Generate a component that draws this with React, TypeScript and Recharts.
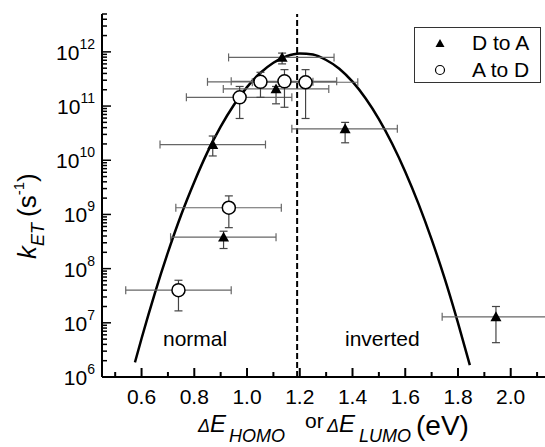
import React from 'react';
import {
  ComposedChart,
  XAxis,
  YAxis,
  Line,
  Scatter,
  ErrorBar,
  ReferenceLine,
  Legend,
} from 'recharts';

const FONT = '"Liberation Sans", Arial, Helvetica, sans-serif';

// Marcus fit: driving force (eV) vs log10 of the rate
const curveX = [
  0.575, 0.6, 0.65, 0.7, 0.75, 0.8, 0.85, 0.9, 0.95, 1.0, 1.05, 1.1, 1.15, 1.2,
  1.25, 1.3, 1.35, 1.4, 1.45, 1.5, 1.55, 1.6, 1.65, 1.7, 1.75, 1.8, 1.845,
];
const curveLogK = [
  6.27, 6.71, 7.54, 8.3, 8.99, 9.6, 10.15, 10.62, 11.02, 11.35, 11.61, 11.8,
  11.92, 11.97, 11.95, 11.85, 11.69, 11.45, 11.14, 10.76, 10.31, 9.79, 9.2,
  8.54, 7.81, 7.0, 6.22,
];

// D to A (filled triangles)
const dtoaX = [0.87, 0.911, 1.11, 1.133, 1.372, 1.944];
const dtoaK = [1.95e10, 3.8e8, 2.07e11, 7.9e11, 3.8e10, 1.29e7];
const dtoaXLow = [0.67, 0.71, 0.91, 0.93, 1.17, 1.74];
const dtoaXHigh = [1.07, 1.11, 1.31, 1.33, 1.57, 2.14];
const dtoaKLow = [1.2e10, 2.35e8, 1.1e11, 6.0e11, 2.1e10, 4.3e6];
const dtoaKHigh = [2.8e10, 4.9e8, 2.3e11, 9.5e11, 5.0e10, 2.0e7];

// A to D (open circles)
const atodX = [0.74, 0.931, 0.972, 1.051, 1.142, 1.222];
const atodK = [4.0e7, 1.33e9, 1.45e11, 2.8e11, 2.86e11, 2.75e11];
const atodXLow = [0.54, 0.73, 0.77, 0.85, 0.94, 1.02];
const atodXHigh = [0.94, 1.13, 1.17, 1.25, 1.34, 1.42];
const atodKLow = [1.66e7, 5.7e8, 5.9e10, 1.45e11, 9.5e10, 5.9e10];
const atodKHigh = [6.1e7, 2.2e9, 2.3e11, 4.2e11, 4.7e11, 4.7e11];

// axis ticks
const majorXTicks = [0.6, 0.8, 1.0, 1.2, 1.4, 1.6, 1.8, 2.0];
const minorXTicks = [0.5, 0.7, 0.9, 1.1, 1.3, 1.5, 1.7, 1.9, 2.1];
const decades = [6, 7, 8, 9, 10, 11, 12];
const mantissas = [1, 2, 3, 4, 5, 6, 7, 8, 9];
const Y_MAX = 5e12;

const TRI_HALF = 5.5;
const CIRCLE_R = 6.5;

const xTicks = [...majorXTicks, ...minorXTicks].sort((a, b) => a - b);
const yTicks = decades
  .flatMap((d) => mantissas.map((m) => m * Math.pow(10, d)))
  .filter((v) => v <= Y_MAX);

const curveData = curveX.map((x, i) => ({ x, k: Math.pow(10, curveLogK[i]) }));

const buildPoints = (
  xs: number[],
  ks: number[],
  xl: number[],
  xh: number[],
  kl: number[],
  kh: number[]
) =>
  xs.map((x, i) => ({
    x,
    k: ks[i],
    ex: [x - xl[i], xh[i] - x],
    ey: [ks[i] - kl[i], kh[i] - ks[i]],
  }));

const dtoaData = buildPoints(dtoaX, dtoaK, dtoaXLow, dtoaXHigh, dtoaKLow, dtoaKHigh);
const atodData = buildPoints(atodX, atodK, atodXLow, atodXHigh, atodKLow, atodKHigh);

const isMajorX = (v: number) => majorXTicks.some((t) => Math.abs(t - v) < 1e-6);
const decadeOf = (v: number) => {
  const e = Math.round(Math.log10(v));
  return Math.abs(v - Math.pow(10, e)) / v < 1e-9 ? e : null;
};

function BottomTick({ x, y, payload }: any) {
  const major = isMajorX(payload.value);
  return (
    <g>
      <line x1={x} x2={x} y1={y} y2={y - (major ? 9 : 5)} stroke="#000" strokeWidth={2} />
      {major && (
        <text x={x} y={y + 27} textAnchor="middle" fontSize={21} fontFamily={FONT} fill="#000">
          {payload.value.toFixed(1)}
        </text>
      )}
    </g>
  );
}

function TopTick({ x, y, payload }: any) {
  const major = isMajorX(payload.value);
  return <line x1={x} x2={x} y1={y} y2={y + (major ? 9 : 5)} stroke="#000" strokeWidth={2} />;
}

function LeftTick({ x, y, payload }: any) {
  const e = decadeOf(payload.value);
  return (
    <g>
      <line x1={x} x2={x + (e !== null ? 9 : 5)} y1={y} y2={y} stroke="#000" strokeWidth={1.5} />
      {e !== null && (
        <text x={x - 7} y={y + 8} textAnchor="end" fontFamily={FONT} fill="#000">
          <tspan fontSize={21}>10</tspan>
          <tspan fontSize={14} dy={-11}>
            {e}
          </tspan>
        </text>
      )}
    </g>
  );
}

function RightTick({ x, y, payload }: any) {
  const e = decadeOf(payload.value);
  return <line x1={x} x2={x - (e !== null ? 9 : 5)} y1={y} y2={y} stroke="#000" strokeWidth={1.5} />;
}

// recharts hands the symbol area in as `size`, so the marker keeps its own dimensions
function Triangle({ cx, cy }: any) {
  if (cx == null || cy == null) return null;
  const h = TRI_HALF;
  return (
    <polygon
      points={`${cx},${cy - h} ${cx - h},${cy + h * 0.8} ${cx + h},${cy + h * 0.8}`}
      fill="#000"
    />
  );
}

function OpenCircle({ cx, cy }: any) {
  if (cx == null || cy == null) return null;
  return <circle cx={cx} cy={cy} r={CIRCLE_R} fill="#fff" stroke="#000" strokeWidth={1.5} />;
}

const legendItems = [
  { name: 'D to A', kind: 'tri' },
  { name: 'A to D', kind: 'circ' },
];

function LegendBox() {
  return (
    <div
      style={{
        width: 127,
        height: 56,
        border: '1.5px solid #333',
        background: '#fff',
        fontFamily: FONT,
        fontSize: 21,
        boxSizing: 'border-box',
        paddingTop: 1,
      }}
    >
      {legendItems.map((it) => (
        <div key={it.name} style={{ display: 'flex', alignItems: 'center', height: 27 }}>
          <svg width={57} height={27}>
            {it.kind === 'tri' ? (
              <polygon points="25,10 20.5,18 29.5,18" fill="#000" />
            ) : (
              <circle cx={25} cy={14} r={4.5} fill="#fff" stroke="#000" strokeWidth={1.2} />
            )}
          </svg>
          <span style={{ lineHeight: '27px' }}>{it.name}</span>
        </div>
      ))}
    </div>
  );
}

export default function App() {
  return (
    <div style={{ position: 'absolute', left: 0, top: 0, width: 545, height: 447, background: '#fff' }}>
      <ComposedChart width={545} height={447} margin={{ top: 14, right: 0, bottom: 0, left: 0 }}>
        <XAxis
          xAxisId="b"
          dataKey="x"
          type="number"
          domain={[0.45, 2.13]}
          allowDataOverflow
          ticks={xTicks}
          interval={0}
          height={70}
          tickSize={0}
          tickMargin={0}
          tick={BottomTick}
          axisLine={{ stroke: '#000', strokeWidth: 2 }}
        />
        <XAxis
          xAxisId="t"
          orientation="top"
          dataKey="x"
          type="number"
          domain={[0.45, 2.13]}
          allowDataOverflow
          ticks={xTicks}
          interval={0}
          height={0}
          tickSize={0}
          tickMargin={0}
          tick={TopTick}
          axisLine={{ stroke: '#000', strokeWidth: 2 }}
        />
        <YAxis
          yAxisId="l"
          dataKey="k"
          type="number"
          scale="log"
          domain={[1e6, Y_MAX]}
          allowDataOverflow
          ticks={yTicks}
          interval={0}
          width={102}
          tickSize={0}
          tickMargin={0}
          tick={LeftTick}
          axisLine={{ stroke: '#000', strokeWidth: 2 }}
        />
        <YAxis
          yAxisId="r"
          orientation="right"
          dataKey="k"
          type="number"
          scale="log"
          domain={[1e6, Y_MAX]}
          allowDataOverflow
          ticks={yTicks}
          interval={0}
          width={0}
          tickSize={0}
          tickMargin={0}
          tick={RightTick}
          axisLine={{ stroke: '#000', strokeWidth: 2 }}
        />
        <ReferenceLine
          xAxisId="b"
          yAxisId="l"
          x={1.19}
          stroke="#000"
          strokeWidth={2}
          strokeDasharray="6 3"
        />
        <Line
          xAxisId="b"
          yAxisId="l"
          data={curveData}
          dataKey="k"
          type="monotone"
          stroke="#000"
          strokeWidth={2.5}
          dot={false}
          activeDot={false}
          isAnimationActive={false}
          legendType="none"
        />
        <Scatter
          xAxisId="b"
          yAxisId="l"
          name="D to A"
          data={dtoaData}
          dataKey="k"
          shape={<Triangle />}
          isAnimationActive={false}
        >
          <ErrorBar dataKey="ex" direction="x" width={4} stroke="#666" strokeWidth={1.2} isAnimationActive={false} />
          <ErrorBar dataKey="ey" direction="y" width={4} stroke="#444" strokeWidth={1.2} isAnimationActive={false} />
        </Scatter>
        <Scatter
          xAxisId="b"
          yAxisId="l"
          name="A to D"
          data={atodData}
          dataKey="k"
          shape={<OpenCircle />}
          isAnimationActive={false}
        >
          <ErrorBar dataKey="ex" direction="x" width={4} stroke="#666" strokeWidth={1.2} isAnimationActive={false} />
          <ErrorBar dataKey="ey" direction="y" width={4} stroke="#444" strokeWidth={1.2} isAnimationActive={false} />
        </Scatter>
        <Legend
          layout="vertical"
          align="center"
          verticalAlign="middle"
          content={() => <LegendBox />}
          wrapperStyle={{ position: 'absolute', left: 414, top: 27, width: 127, height: 56 }}
        />
      </ComposedChart>
      <svg
        width={545}
        height={447}
        style={{ position: 'absolute', left: 0, top: 0, pointerEvents: 'none' }}
        fontFamily={FONT}
      >
        <text x={163} y={346} fontSize={21} fill="#000">
          normal
        </text>
        <text x={345} y={346} fontSize={21} fill="#000">
          inverted
        </text>
        <text y={432} fill="#000">
          <tspan x={198} fontSize={18} fontStyle="italic">
            Δ
          </tspan>
          <tspan fontSize={24} fontStyle="italic">
            E
          </tspan>
          <tspan x={229} fontSize={18} fontStyle="italic" dy={10}>
            HOMO
          </tspan>
          <tspan x={305} y={428} fontSize={21}>
            or
          </tspan>
          <tspan x={327} y={432} fontSize={18} fontStyle="italic">
            Δ
          </tspan>
          <tspan fontSize={24} fontStyle="italic">
            E
          </tspan>
          <tspan x={359} fontSize={18} fontStyle="italic" dy={10}>
            LUMO
          </tspan>
          <tspan x={416} y={435} fontSize={28}>
            (eV)
          </tspan>
        </text>
        <text transform="translate(36,259) rotate(-90)" fill="#000">
          <tspan fontSize={26} fontStyle="italic">
            k
          </tspan>
          <tspan fontSize={18} fontStyle="italic" dy={8}>
            ET
          </tspan>
          <tspan fontSize={26} dx={6} dy={-8}>
            (s
          </tspan>
          <tspan fontSize={15} dy={-12}>
            -1
          </tspan>
          <tspan fontSize={26} dy={12}>
            )
          </tspan>
        </text>
      </svg>
    </div>
  );
}
